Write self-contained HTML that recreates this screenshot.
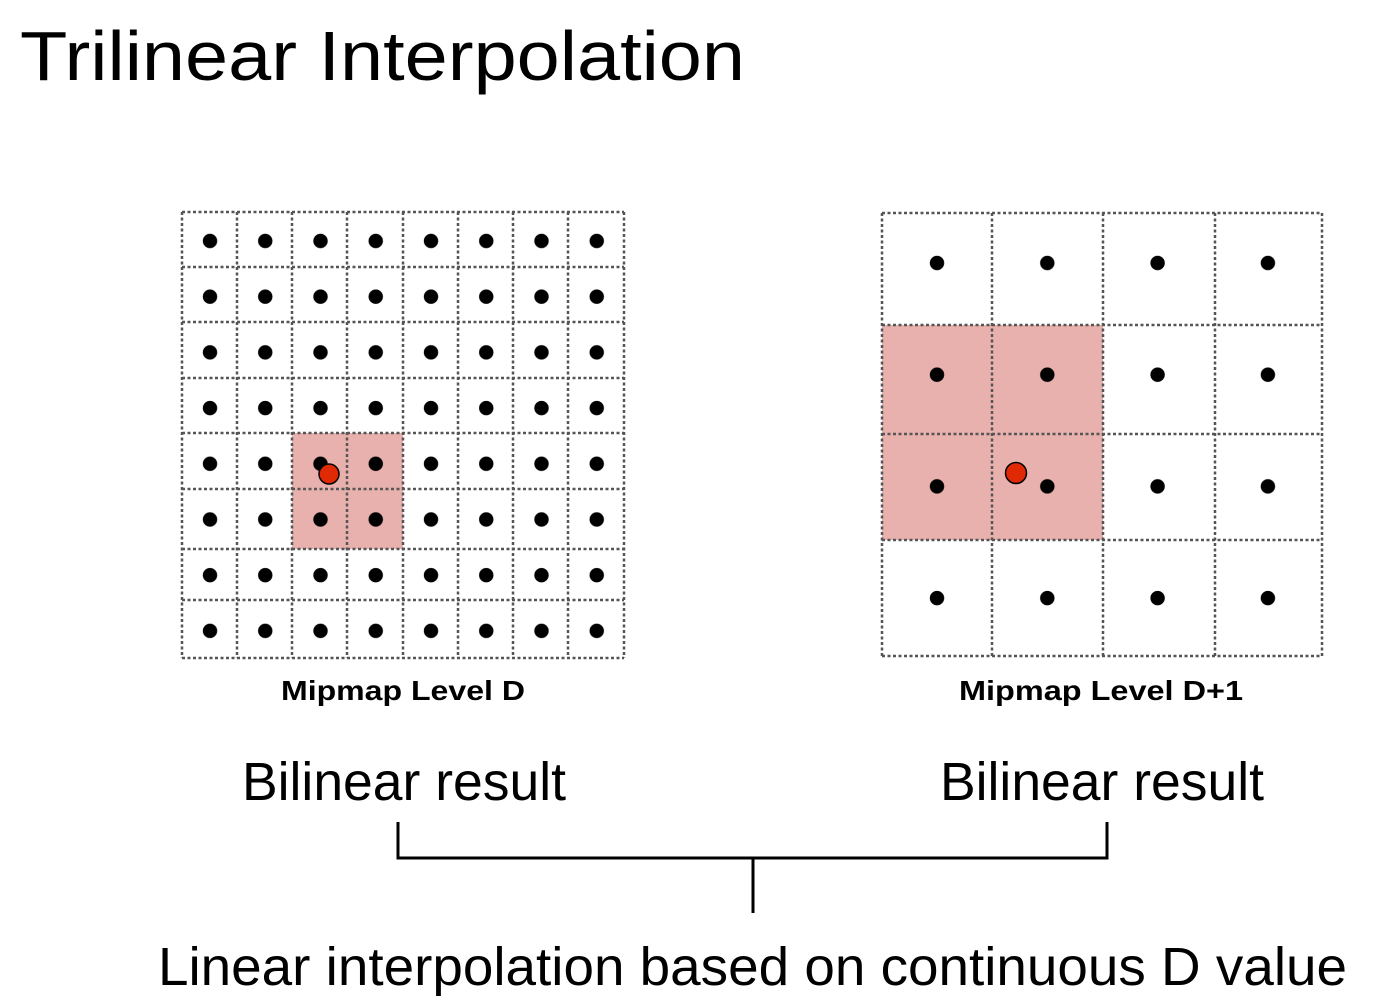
<!DOCTYPE html>
<html><head><meta charset="utf-8"><style>
html,body{margin:0;padding:0;background:#fff;}
svg{display:block;}
</style></head><body>
<svg width="1396" height="1004" viewBox="0 0 1396 1004" xmlns="http://www.w3.org/2000/svg">
<defs>
<pattern id="pl" patternUnits="userSpaceOnUse" x="182" y="212" width="55.25" height="55.7">
<circle cx="28" cy="29" r="7.2" fill="#000"/>
</pattern>
<pattern id="pr" patternUnits="userSpaceOnUse" x="882" y="213" width="110.3" height="111.7">
<circle cx="55" cy="50" r="7.2" fill="#000"/>
</pattern>
</defs>
<text x="20" y="80" font-family="Liberation Sans, sans-serif" font-size="70" textLength="725" lengthAdjust="spacingAndGlyphs" fill="#000">Trilinear Interpolation</text>

<!-- left grid -->
<rect x="292" y="433" width="111" height="116" fill="#e9b1ad"/>
<rect x="182" y="212" width="442" height="446" fill="url(#pl)"/>
<g stroke="#555" stroke-width="2.5" stroke-dasharray="3 2.5" fill="none">
<line x1="182" y1="212" x2="182" y2="658"/><line x1="237" y1="212" x2="237" y2="658"/><line x1="292" y1="212" x2="292" y2="658"/><line x1="347" y1="212" x2="347" y2="658"/><line x1="403" y1="212" x2="403" y2="658"/><line x1="458" y1="212" x2="458" y2="658"/><line x1="513" y1="212" x2="513" y2="658"/><line x1="568" y1="212" x2="568" y2="658"/><line x1="624" y1="212" x2="624" y2="658"/>
<line x1="182" y1="212" x2="624" y2="212"/><line x1="182" y1="267" x2="624" y2="267"/><line x1="182" y1="322" x2="624" y2="322"/><line x1="182" y1="378" x2="624" y2="378"/><line x1="182" y1="433" x2="624" y2="433"/><line x1="182" y1="489" x2="624" y2="489"/><line x1="182" y1="549" x2="624" y2="549"/><line x1="182" y1="600" x2="624" y2="600"/><line x1="182" y1="658" x2="624" y2="658"/>
</g>
<circle cx="329" cy="474" r="10" fill="#e02a06" stroke="#000" stroke-width="1.5"/>
<text x="403" y="700" text-anchor="middle" font-family="Liberation Sans, sans-serif" font-weight="bold" font-size="28" textLength="244" lengthAdjust="spacingAndGlyphs">Mipmap Level D</text>

<!-- right grid -->
<rect x="882" y="325" width="221" height="215" fill="#e9b1ad"/>
<rect x="882" y="213" width="441" height="443" fill="url(#pr)"/>
<g stroke="#555" stroke-width="2.5" stroke-dasharray="3 2.5" fill="none">
<line x1="882" y1="213" x2="882" y2="656"/><line x1="992" y1="213" x2="992" y2="656"/><line x1="1103" y1="213" x2="1103" y2="656"/><line x1="1215" y1="213" x2="1215" y2="656"/><line x1="1322" y1="213" x2="1322" y2="656"/>
<line x1="882" y1="213" x2="1322" y2="213"/><line x1="882" y1="325" x2="1322" y2="325"/><line x1="882" y1="434" x2="1322" y2="434"/><line x1="882" y1="540" x2="1322" y2="540"/><line x1="882" y1="656" x2="1322" y2="656"/>
</g>
<circle cx="1016" cy="473" r="10.5" fill="#e02a06" stroke="#000" stroke-width="1.5"/>
<text x="1101" y="700" text-anchor="middle" font-family="Liberation Sans, sans-serif" font-weight="bold" font-size="28" textLength="284" lengthAdjust="spacingAndGlyphs">Mipmap Level D+1</text>

<text x="242" y="800" font-family="Liberation Sans, sans-serif" font-size="54" textLength="324" lengthAdjust="spacingAndGlyphs">Bilinear result</text>
<text x="940" y="800" font-family="Liberation Sans, sans-serif" font-size="54" textLength="324" lengthAdjust="spacingAndGlyphs">Bilinear result</text>

<g stroke="#000" stroke-width="3" fill="none">
<polyline points="398,822 398,858 1107,858 1107,822"/>
<line x1="753" y1="858" x2="753" y2="913"/>
</g>
<text x="158" y="985" font-family="Liberation Sans, sans-serif" font-size="54" textLength="1189" lengthAdjust="spacingAndGlyphs">Linear interpolation based on continuous D value</text>
</svg>
</body></html>
